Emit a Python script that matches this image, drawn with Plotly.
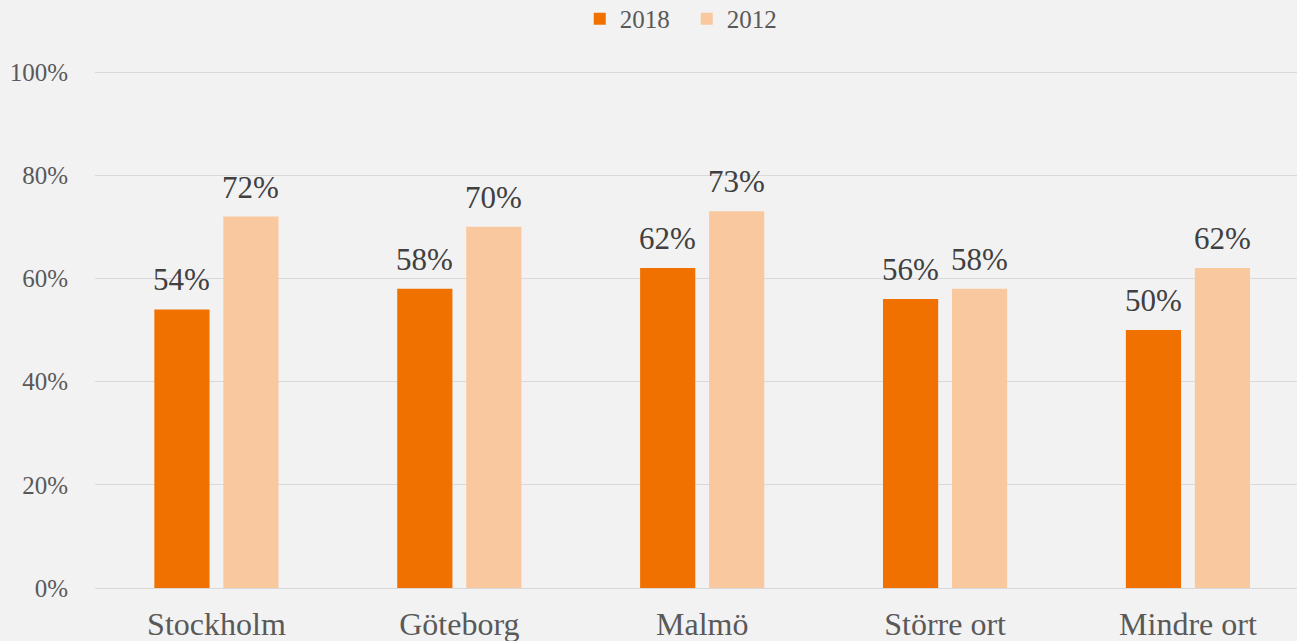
import plotly.graph_objects as go

categories = ["Stockholm", "Göteborg", "Malmö", "Större ort", "Mindre ort"]
values_2018 = [0.54, 0.58, 0.62, 0.56, 0.50]
values_2012 = [0.72, 0.70, 0.73, 0.58, 0.62]
labels_2018 = ["54%", "58%", "62%", "56%", "50%"]
labels_2012 = ["72%", "70%", "73%", "58%", "62%"]
tick_vals = [0, 0.2, 0.4, 0.6, 0.8, 1.0]
tick_text = ["0%", "20%", "40%", "60%", "80%", "100%"]

font_family = "Liberation Serif, Times New Roman, serif"
color_2018 = "#f07000"
color_2012 = "#f9c89f"

fig = go.Figure()
fig.add_trace(go.Bar(name="2018", x=categories, y=values_2018,
                     marker=dict(color=color_2018, line=dict(width=0))))
fig.add_trace(go.Bar(name="2012", x=categories, y=values_2012,
                     marker=dict(color=color_2012, line=dict(width=0))))

# data labels as annotations above each bar
slot_px = 34.5
for cat, v, t in zip(categories, values_2018, labels_2018):
    fig.add_annotation(x=cat, y=v, text=t, showarrow=False, xref="x", yref="y",
                       xshift=-slot_px, yshift=10, yanchor="bottom",
                       font=dict(size=31, color="#404040", family=font_family))
for cat, v, t in zip(categories, values_2012, labels_2012):
    fig.add_annotation(x=cat, y=v, text=t, showarrow=False, xref="x", yref="y",
                       xshift=slot_px, yshift=10, yanchor="bottom",
                       font=dict(size=31, color="#404040", family=font_family))

fig.update_layout(
    width=1297, height=641,
    paper_bgcolor="#f2f2f2", plot_bgcolor="#f2f2f2",
    margin=dict(l=95, r=0, t=71, b=53, autoexpand=False),
    barmode="group", bargap=0.432, bargroupgap=0.2,
    font=dict(family=font_family, color="#595959", size=24),
    legend=dict(orientation="h", x=0.4923, xanchor="center", y=0.9704, yanchor="middle",
                yref="container",
                font=dict(size=25, color="#595959"),
                bgcolor="rgba(0,0,0,0)", itemwidth=30, tracegroupgap=0,
                entrywidth=62, entrywidthmode="pixels"),
    xaxis=dict(range=[-0.5, 4.449], showgrid=False, showline=False, ticks="",
               tickfont=dict(size=32, color="#595959"), ticklabelstandoff=14),
    yaxis=dict(range=[0, 1.002], tickvals=tick_vals, ticktext=tick_text,
               showgrid=True, gridcolor="#d9d9d9", gridwidth=1.3,
               zeroline=True, zerolinecolor="#d9d9d9", zerolinewidth=1.3,
               tickfont=dict(size=25, color="#595959"), ticks="", ticklabelstandoff=26),
    showlegend=True,
)

fig.write_html("out.html", config={"displayModeBar": False},
               post_script="document.body.style.margin='0';document.body.style.background='#f2f2f2';")
